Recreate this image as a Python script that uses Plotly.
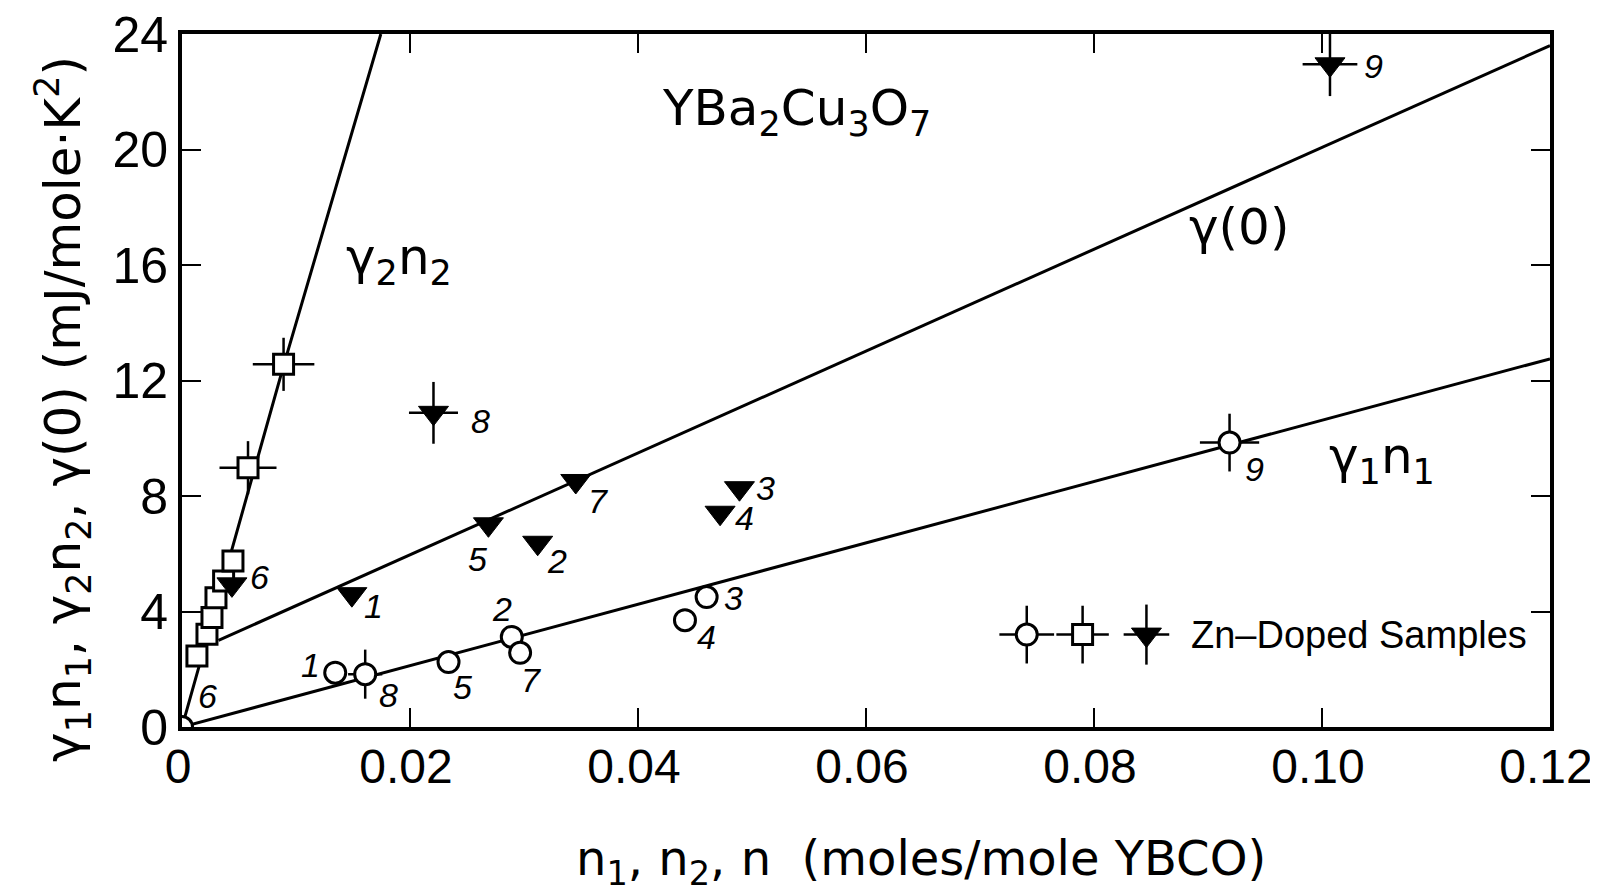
import plotly.graph_objects as go

# ---------------- data ----------------
# gamma1*n1 (open circles)
circ_labels = ["", "1", "8", "5", "2", "7", "4", "3", "9"]
circ_x = [0.0, 0.01344, 0.01607, 0.02338, 0.02893, 0.02966, 0.04412, 0.04602, 0.09189]
circ_y = [0.0, 1.88, 1.83, 2.25, 3.12, 2.57, 3.70, 4.50, 9.85]
circ_ex = [0, 0, 0.0015, 0, 0, 0, 0, 0, 0.0026]
circ_ey = [0, 0, 0.85, 0, 0, 0, 0, 0, 1.0]

# gamma2*n2 (open squares)
sq_labels = ["6", "", "", "", "", "", "", ""]
sq_x = [0.00131, 0.00219, 0.00263, 0.00298, 0.00365, 0.00447, 0.00579, 0.00891]
sq_y = [2.46, 3.21, 3.79, 4.48, 5.06, 5.75, 8.98, 12.56]
sq_ex = [0, 0, 0, 0, 0, 0, 0.0025, 0.0027]
sq_ey = [0, 0, 0, 0, 0, 0, 0.92, 0.92]

# gamma(0) (filled down triangles)
tri_labels = ["6", "1", "8", "5", "2", "7", "4", "3", "9"]
tri_x = [0.00438, 0.0149, 0.02206, 0.02688, 0.0312, 0.03454, 0.0472, 0.0489, 0.1007]
tri_y = [4.94, 4.60, 10.88, 7.02, 6.38, 8.52, 7.42, 8.27, 22.95]
tri_ex = [0, 0, 0.00215, 0, 0, 0, 0, 0, 0.0024]
tri_ey = [0, 0, 1.07, 0, 0, 0, 0, 0, 1.1]

# fitted lines
line1_x = [0.0, 0.12]
line1_y = [0.0, 12.75]
line0_x = [0.0032, 0.12]
line0_y = [3.0, 23.6]
line2_x = [0.0, 0.0089, 0.01744]
line2_y = [0.0, 12.5, 24.0]

# legend samples
leg_x = [0.0741, 0.0790, 0.0846]
leg_y = [3.2, 3.2, 3.2]
leg_ex = [0.0024, 0.0023, 0.0020]
leg_ey = [1.0, 1.0, 1.04]

x_ticks = [0, 0.02, 0.04, 0.06, 0.08, 0.10, 0.12]
x_ticktext = ["0", "0.02", "0.04", "0.06", "0.08", "0.10", "0.12"]
y_ticks = [0, 4, 8, 12, 16, 20, 24]

# ---------------- styles / positions ----------------
FONT = "Liberation Sans, Arial, sans-serif"
WFONT = "DejaVu Sans, Liberation Sans, sans-serif"
BLACK = "black"

circ_off = [(0, 0), (-25, 8), (23, -21), (14, -25), (-10, 28), (11, -27), (22, -17), (27, -1), (25, -26)]
sq_off = [(11, -40)] + [(0, 0)] * 7
tri_off = [(28, 7), (22, -12), (47, -8), (-11, -35), (19, -18), (22, -20), (24, -5), (26, 0), (44, -2)]

fig = go.Figure()

lw = 3
fig.add_trace(go.Scatter(x=line1_x, y=line1_y, mode="lines", line=dict(color=BLACK, width=lw), hoverinfo="skip"))
fig.add_trace(go.Scatter(x=line0_x, y=line0_y, mode="lines", line=dict(color=BLACK, width=lw), hoverinfo="skip"))
fig.add_trace(go.Scatter(x=line2_x, y=line2_y, mode="lines", line=dict(color=BLACK, width=lw), hoverinfo="skip"))


def err(arr):
    return dict(type="data", array=arr, symmetric=True, color=BLACK, thickness=2.5, width=0)


CIRC = dict(symbol="circle", size=21, color="white", opacity=1, line=dict(color=BLACK, width=3))
SQ = dict(symbol="square", size=20, color="white", opacity=1, line=dict(color=BLACK, width=3))
TRI = dict(symbol="triangle-down", size=26, color=BLACK, opacity=1, line=dict(color=BLACK, width=1))

fig.add_trace(go.Scatter(x=sq_x, y=sq_y, mode="markers", marker=SQ,
                         error_x=err(sq_ex), error_y=err(sq_ey)))
fig.add_trace(go.Scatter(x=tri_x, y=tri_y, mode="markers", marker=TRI,
                         error_x=err(tri_ex), error_y=err(tri_ey)))
fig.add_trace(go.Scatter(x=circ_x, y=circ_y, mode="markers", marker=CIRC,
                         error_x=err(circ_ex), error_y=err(circ_ey)))

# legend sample symbols (one trace each)
for i, mk in enumerate([CIRC, SQ, TRI]):
    fig.add_trace(go.Scatter(x=[leg_x[i]], y=[leg_y[i]], mode="markers", marker=mk,
                             error_x=err([leg_ex[i]]), error_y=err([leg_ey[i]])))

annotations = []
lab_font = dict(family=FONT, size=34, color=BLACK)


def add_labels(xs, ys, labels, offs):
    for xv, yv, lab, (dx, dy) in zip(xs, ys, labels, offs):
        if not lab:
            continue
        annotations.append(dict(x=xv, y=yv, xref="x", yref="y", text="<i>" + lab + "</i>",
                                showarrow=False, xshift=dx, yshift=dy, font=lab_font))


add_labels(circ_x, circ_y, circ_labels, circ_off)
add_labels(sq_x, sq_y, sq_labels, sq_off)
add_labels(tri_x, tri_y, tri_labels, tri_off)

big = dict(family=WFONT, size=50, color=BLACK)
annotations += [
    dict(x=0.0539, y=21.33, xref="x", yref="y", showarrow=False,
         text="YBa<sub>2</sub>Cu<sub>3</sub>O<sub>7</sub>", font=dict(family=WFONT, size=50, color=BLACK)),
    dict(x=0.01902, y=16.14, xref="x", yref="y", showarrow=False,
         text="γ<sub>2</sub>n<sub>2</sub>", font=big),
    dict(x=0.09274, y=17.32, xref="x", yref="y", showarrow=False,
         text="γ(0)", font=big),
    dict(x=0.10528, y=9.25, xref="x", yref="y", showarrow=False,
         text="γ<sub>1</sub>n<sub>1</sub>", font=big),
    dict(x=0.0883, y=3.2, xref="x", yref="y", showarrow=False, xanchor="left",
         text="Zn–Doped Samples", font=dict(family=FONT, size=38, color=BLACK)),
    # axis titles
    dict(x=0.54, y=0, xref="paper", yref="paper", showarrow=False, yanchor="middle", yshift=-134,
         text="n<sub>1</sub>, n<sub>2</sub>, n  (moles/mole YBCO)", font=dict(family=WFONT, size=48, color=BLACK)),
    dict(x=0, y=0.459, xref="paper", yref="paper", showarrow=False, xanchor="center", xshift=-119,
         textangle=-90,
         text="γ<sub>1</sub>n<sub>1</sub>, γ<sub>2</sub>n<sub>2</sub>, γ(0) (mJ/mole·K<sup>2</sup>)",
         font=dict(family=WFONT, size=50, color=BLACK)),
]

axis_common = dict(showgrid=False, zeroline=False, showline=True, linecolor=BLACK, linewidth=4,
                   mirror="ticks", ticks="inside", ticklen=19, tickwidth=2, tickcolor=BLACK,
                   automargin=False, ticklabeloverflow="allow")

# page body adds a small default offset, so the figure is sized/offset to compensate
fig.update_layout(
    width=1591, height=888,
    margin=dict(l=174, r=49, t=26, b=169),
    paper_bgcolor="white", plot_bgcolor="white",
    showlegend=False,
    annotations=annotations,
    xaxis=dict(range=[0, 0.12], tickvals=x_ticks, ticktext=x_ticktext, ticklabelstandoff=-6,
               ticklabelshift=-4, tickfont=dict(family=FONT, size=48, color=BLACK), **axis_common),
    yaxis=dict(range=[0, 24], tickvals=y_ticks,
               tickfont=dict(family=FONT, size=50, color=BLACK), **axis_common),
)

fig.write_html("out.html")
